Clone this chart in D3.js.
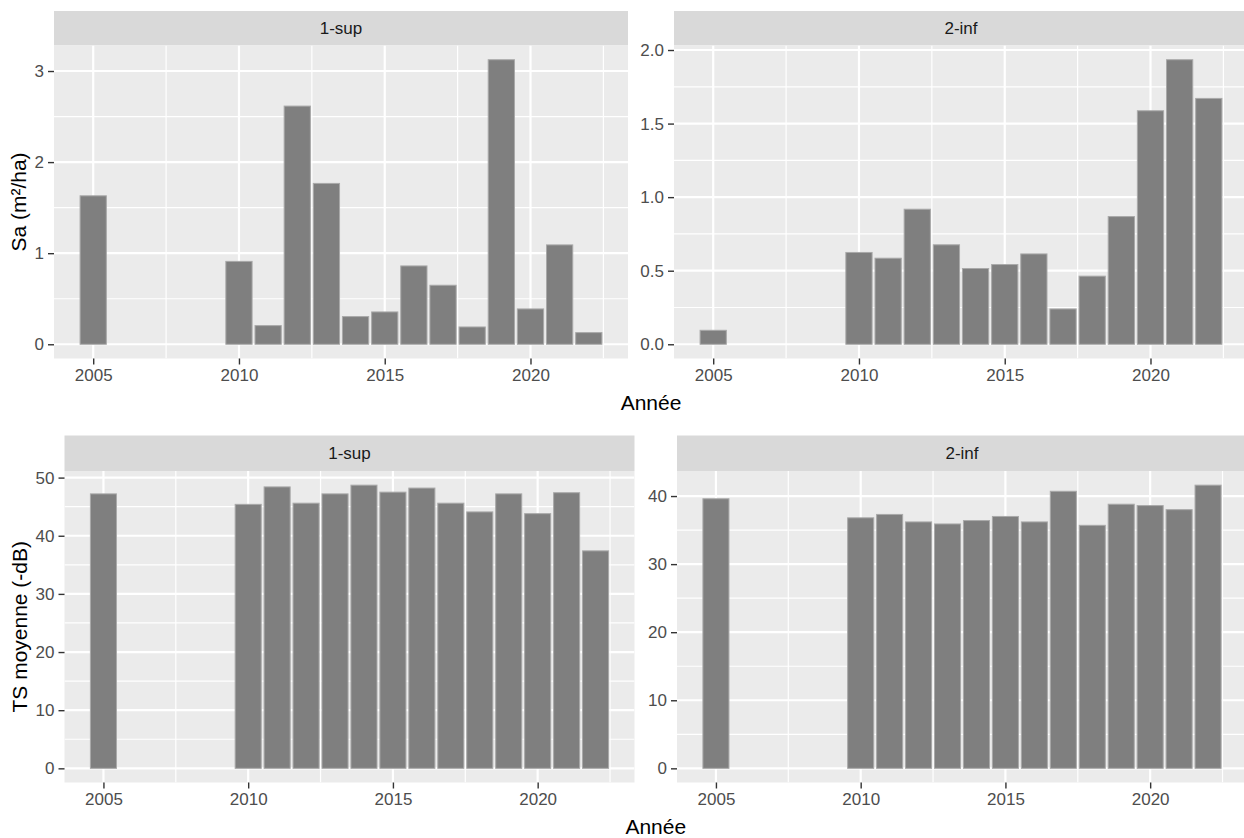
<!DOCTYPE html>
<html>
<head>
<meta charset="utf-8">
<script src="https://cdn.jsdelivr.net/npm/d3@7"></script>
<style>
  html, body { margin: 0; padding: 0; background: #ffffff; }
  svg { display: block; font-family: "Liberation Sans", Arial, sans-serif; }
</style>
</head>
<body>
<svg id="chart" width="1244" height="838"></svg>
<script>
// ---------- data ----------
const years = [2005, 2010, 2011, 2012, 2013, 2014, 2015, 2016, 2017, 2018, 2019, 2020, 2021, 2022];
const facets = ["1-sup", "2-inf"];
const saSup = [1.63, 0.91, 0.205, 2.615, 1.766, 0.304, 0.355, 0.86, 0.648, 0.19, 3.124, 0.388, 1.091, 0.128];
const saInf = [0.095, 0.624, 0.585, 0.918, 0.676, 0.515, 0.542, 0.614, 0.24, 0.463, 0.868, 1.587, 1.934, 1.671];
const tsSup = [47.2, 45.4, 48.4, 45.6, 47.2, 48.7, 47.5, 48.2, 45.6, 44.1, 47.2, 43.8, 47.4, 37.4];
const tsInf = [39.6, 36.8, 37.3, 36.2, 35.9, 36.4, 37.0, 36.2, 40.7, 35.7, 38.8, 38.6, 38.0, 41.6];
const xTicks = [2005, 2010, 2015, 2020];
const xMinor = [2007.5, 2012.5, 2017.5, 2022.5];
const saSupTicks = [0, 1, 2, 3];
const saInfTicks = [0, 0.5, 1, 1.5, 2];
const tsSupTicks = [0, 10, 20, 30, 40, 50];
const tsInfTicks = [0, 10, 20, 30, 40];
const xTitle = "Année";
const yTitleSa = "Sa (m²/ha)";
const yTitleTs = "TS moyenne (-dB)";

// ---------- style ----------
const PANEL_BG = "#EBEBEB", STRIP_BG = "#D9D9D9", TICK_TXT = "#4D4D4D", TICK_COL = "#333333";
const BAR_FILL = "#7F7F7F", BAR_STROKE = "#A9A9A9";
const TICK_FS = 17, TITLE_FS = 21;
const BAR_W = 0.9;

const svg = d3.select("#chart");

function minorBetween(ticks, dom) {
  const out = [];
  const step = ticks[1] - ticks[0];
  for (let t = ticks[0] - step / 2; t <= dom[1]; t += step) {
    if (t >= dom[0] && !ticks.some(v => Math.abs(v - t) < 1e-9)) out.push(t);
  }
  return out;
}

function drawPanel(p) {
  const g = svg.append("g");
  const xDomRaw = [d3.min(years) - BAR_W / 2, d3.max(years) + BAR_W / 2];
  const xe = (xDomRaw[1] - xDomRaw[0]) * 0.05;
  const x = d3.scaleLinear().domain([xDomRaw[0] - xe, xDomRaw[1] + xe]).range([p.x0, p.x1]);
  const ymax = d3.max(p.values);
  const y = d3.scaleLinear().domain([-0.05 * ymax, 1.05 * ymax]).range([p.y1, p.y0]);

  // strip
  g.append("rect").attr("x", p.x0).attr("y", p.sy0).attr("width", p.x1 - p.x0).attr("height", p.y0 - p.sy0)
    .attr("fill", STRIP_BG);
  g.append("text").attr("x", (p.x0 + p.x1) / 2).attr("y", (p.sy0 + p.y0) / 2)
    .attr("dy", "0.35em").attr("text-anchor", "middle").attr("font-size", TICK_FS)
    .attr("fill", "#1A1A1A").text(p.label);

  // panel background
  g.append("rect").attr("x", p.x0).attr("y", p.y0).attr("width", p.x1 - p.x0).attr("height", p.y1 - p.y0)
    .attr("fill", PANEL_BG);

  const clipId = "clip" + p.id;
  svg.append("clipPath").attr("id", clipId).append("rect")
    .attr("x", p.x0).attr("y", p.y0).attr("width", p.x1 - p.x0).attr("height", p.y1 - p.y0);
  const inner = g.append("g").attr("clip-path", `url(#${clipId})`);

  // minor grid
  const yMinor = minorBetween(p.ticks, y.domain());
  inner.selectAll(".ymin").data(yMinor).enter().append("line")
    .attr("x1", p.x0).attr("x2", p.x1).attr("y1", d => y(d)).attr("y2", d => y(d))
    .attr("stroke", "#ffffff").attr("stroke-width", 1.2);
  inner.selectAll(".xmin").data(xMinor).enter().append("line")
    .attr("y1", p.y0).attr("y2", p.y1).attr("x1", d => x(d)).attr("x2", d => x(d))
    .attr("stroke", "#ffffff").attr("stroke-width", 1.2);
  // major grid
  inner.selectAll(".ymaj").data(p.ticks).enter().append("line")
    .attr("x1", p.x0).attr("x2", p.x1).attr("y1", d => y(d)).attr("y2", d => y(d))
    .attr("stroke", "#ffffff").attr("stroke-width", 2.2);
  inner.selectAll(".xmaj").data(xTicks).enter().append("line")
    .attr("y1", p.y0).attr("y2", p.y1).attr("x1", d => x(d)).attr("x2", d => x(d))
    .attr("stroke", "#ffffff").attr("stroke-width", 2.2);

  // bars
  inner.selectAll(".bar").data(years.map((yr, i) => ({ yr, v: p.values[i] }))).enter().append("rect")
    .attr("x", d => x(d.yr - BAR_W / 2))
    .attr("width", d => x(d.yr + BAR_W / 2) - x(d.yr - BAR_W / 2))
    .attr("y", d => y(d.v))
    .attr("height", d => y(0) - y(d.v))
    .attr("fill", BAR_FILL).attr("stroke", BAR_STROKE).attr("stroke-width", 1);

  // x axis
  const xAxis = d3.axisBottom(x).tickValues(xTicks).tickSize(6).tickPadding(4).tickFormat(d3.format("d"));
  const gx = g.append("g").attr("transform", `translate(0,${p.y1})`).call(xAxis);
  gx.select(".domain").remove();
  gx.selectAll(".tick line").attr("stroke", TICK_COL).attr("stroke-width", 1.4);
  gx.selectAll(".tick text").attr("fill", TICK_TXT).attr("font-size", TICK_FS)
    .attr("font-family", "Liberation Sans, Arial, sans-serif");

  // y axis
  const yAxis = d3.axisLeft(y).tickValues(p.ticks).tickSize(6).tickPadding(4).tickFormat(p.fmt);
  const gy = g.append("g").attr("transform", `translate(${p.x0},0)`).call(yAxis);
  gy.select(".domain").remove();
  gy.selectAll(".tick line").attr("stroke", TICK_COL).attr("stroke-width", 1.4);
  gy.selectAll(".tick text").attr("fill", TICK_TXT).attr("font-size", TICK_FS)
    .attr("font-family", "Liberation Sans, Arial, sans-serif");
}

const fmtInt = d3.format("d");
const fmt1 = d3.format(".1f");

// top row : Sa
drawPanel({ id: 1, label: facets[0], values: saSup, ticks: saSupTicks, fmt: fmtInt,
  x0: 54, x1: 628, sy0: 11, y0: 45.5, y1: 358.5 });
drawPanel({ id: 2, label: facets[1], values: saInf, ticks: saInfTicks, fmt: fmt1,
  x0: 674, x1: 1248, sy0: 11, y0: 45.5, y1: 358.5 });
// bottom row : TS
drawPanel({ id: 3, label: facets[0], values: tsSup, ticks: tsSupTicks, fmt: fmtInt,
  x0: 64.5, x1: 634.5, sy0: 435.5, y0: 471, y1: 782.5 });
drawPanel({ id: 4, label: facets[1], values: tsInf, ticks: tsInfTicks, fmt: fmtInt,
  x0: 677, x1: 1247, sy0: 435.5, y0: 471, y1: 782.5 });

// axis titles
svg.append("text").attr("x", (54 + 1248) / 2).attr("y", 410).attr("text-anchor", "middle")
  .attr("font-size", TITLE_FS).attr("fill", "#000").text(xTitle);
svg.append("text").attr("x", (64.5 + 1247) / 2).attr("y", 834).attr("text-anchor", "middle")
  .attr("font-size", TITLE_FS).attr("fill", "#000").text(xTitle);
svg.append("text").attr("transform", `translate(26,${(45.5 + 358.5) / 2}) rotate(-90)`)
  .attr("text-anchor", "middle").attr("font-size", TITLE_FS).attr("fill", "#000").text(yTitleSa);
svg.append("text").attr("transform", `translate(27,${(471 + 782.5) / 2}) rotate(-90)`)
  .attr("text-anchor", "middle").attr("font-size", TITLE_FS).attr("fill", "#000").text(yTitleTs);
</script>
</body>
</html>
